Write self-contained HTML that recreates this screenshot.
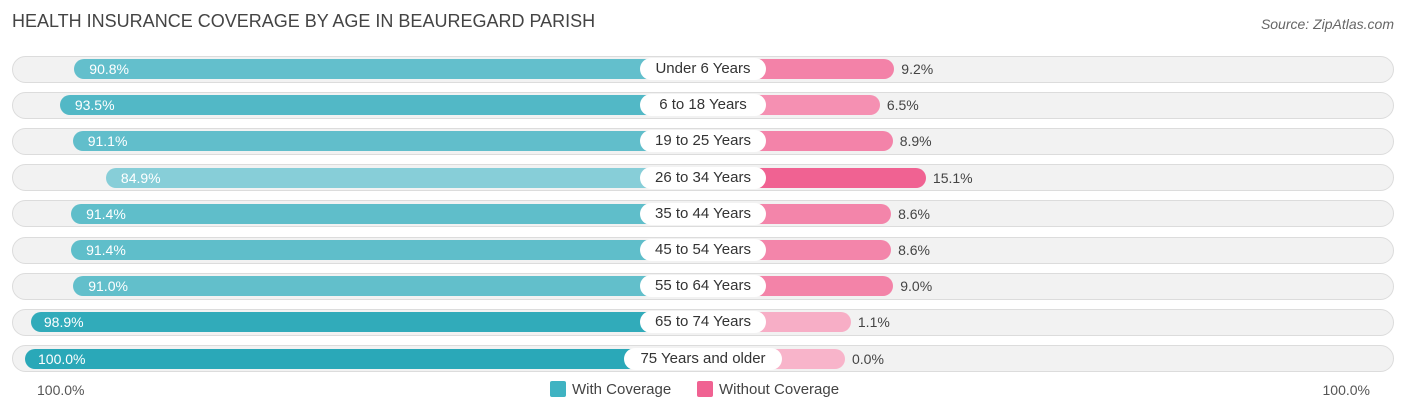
<!DOCTYPE html>
<html><head><meta charset="utf-8">
<style>
body{margin:0;width:1406px;height:415px;background:#fff;font-family:"Liberation Sans",sans-serif;position:relative;overflow:hidden}
.t{position:absolute;white-space:nowrap}
.row{position:absolute;left:12px;width:1382px;height:27px;border-radius:14px;background:#f2f2f2;border:1px solid #dcdcdc;box-sizing:border-box}
.bar{position:absolute;height:20px;border-radius:10px}
.lab{position:absolute;height:22px;border-radius:11px;background:#fff;font-size:15px;color:#333;text-align:center;line-height:22px}
</style></head><body>
<div class="t" style="left:12px;top:11px;font-size:18px;color:#444">HEALTH INSURANCE COVERAGE BY AGE IN BEAUREGARD PARISH</div>
<div class="t" style="right:12px;top:16px;font-size:14px;color:#666;font-style:italic">Source: ZipAtlas.com</div>
<div id="chart"></div>
<div class="t" style="left:37px;top:382px;font-size:14px;color:#555">100.0%</div>
<div class="t" style="right:36px;top:382px;font-size:14px;color:#555">100.0%</div>
<div class="t" style="left:550px;top:381px;font-size:15px;color:#444"><span style="display:inline-block;width:16px;height:16px;background:#3fb3c2;border-radius:2px;vertical-align:-3px;margin-right:6px"></span>With Coverage</div>
<div class="t" style="left:697px;top:381px;font-size:15px;color:#444"><span style="display:inline-block;width:16px;height:16px;background:#f06292;border-radius:2px;vertical-align:-3px;margin-right:6px"></span>Without Coverage</div>
<script>
const categories=["Under 6 Years","6 to 18 Years","19 to 25 Years","26 to 34 Years","35 to 44 Years","45 to 54 Years","55 to 64 Years","65 to 74 Years","75 Years and older"];
const withCov=[90.8,93.5,91.1,84.9,91.4,91.4,91.0,98.9,100.0];
const withoutCov=[9.2,6.5,8.9,15.1,8.6,8.6,9.0,1.1,0.0];
const C=703,OFF=142,K=5.36,Y0=69,DY=36.2;
const chart=document.getElementById('chart');
function mix(a,b,t){return 'rgb('+a.map((v,i)=>Math.round(v+(b[i]-v)*t)).join(',')+')';}
categories.forEach((cat,i)=>{
  const y=Y0+i*DY;
  const row=document.createElement('div');row.className='row';row.style.top=(y-13.5)+'px';
  
  
  chart.appendChild(row);
  const w=withCov[i],wo=withoutCov[i];
  const lb=document.createElement('div');lb.className='bar';
  const lx=C-OFF-K*w;
  lb.style.cssText+=`left:${lx}px;width:${C-lx}px;top:${y-10}px;background:${mix([141,208,218],[42,168,184],Math.max(0,Math.min(1,(w-84)/16)))}`;
  
  
  chart.appendChild(lb);
  const lt=document.createElement('div');lt.className='t';
  lt.style.cssText=`left:${lx+(w>=98?13:15)}px;top:${y-9}px;font-size:14px;color:#fff;line-height:18px`;
  lt.textContent=w.toFixed(1)+'%';
  
  
  chart.appendChild(lt);
  const rb=document.createElement('div');rb.className='bar';
  const rx=C+OFF+K*wo;
  rb.style.cssText+=`left:${C}px;width:${rx-C}px;top:${y-10}px;background:${mix([248,180,202],[240,98,146],Math.min(1,wo/15))}`;
  
  
  chart.appendChild(rb);
  const rt=document.createElement('div');rt.className='t';
  rt.style.cssText=`left:${rx+7}px;top:${y-9}px;font-size:14px;color:#444;line-height:18px`;
  rt.textContent=wo.toFixed(1)+'%';
  
  
  chart.appendChild(rt);
  const lab=document.createElement('div');lab.className='lab';
  const lw=cat.length>14?158:126;
  lab.style.cssText+=`left:${C-lw/2}px;width:${lw}px;top:${y-11}px`;
  lab.textContent=cat;
  
  
  chart.appendChild(lab);
});
</script>
</body></html>
